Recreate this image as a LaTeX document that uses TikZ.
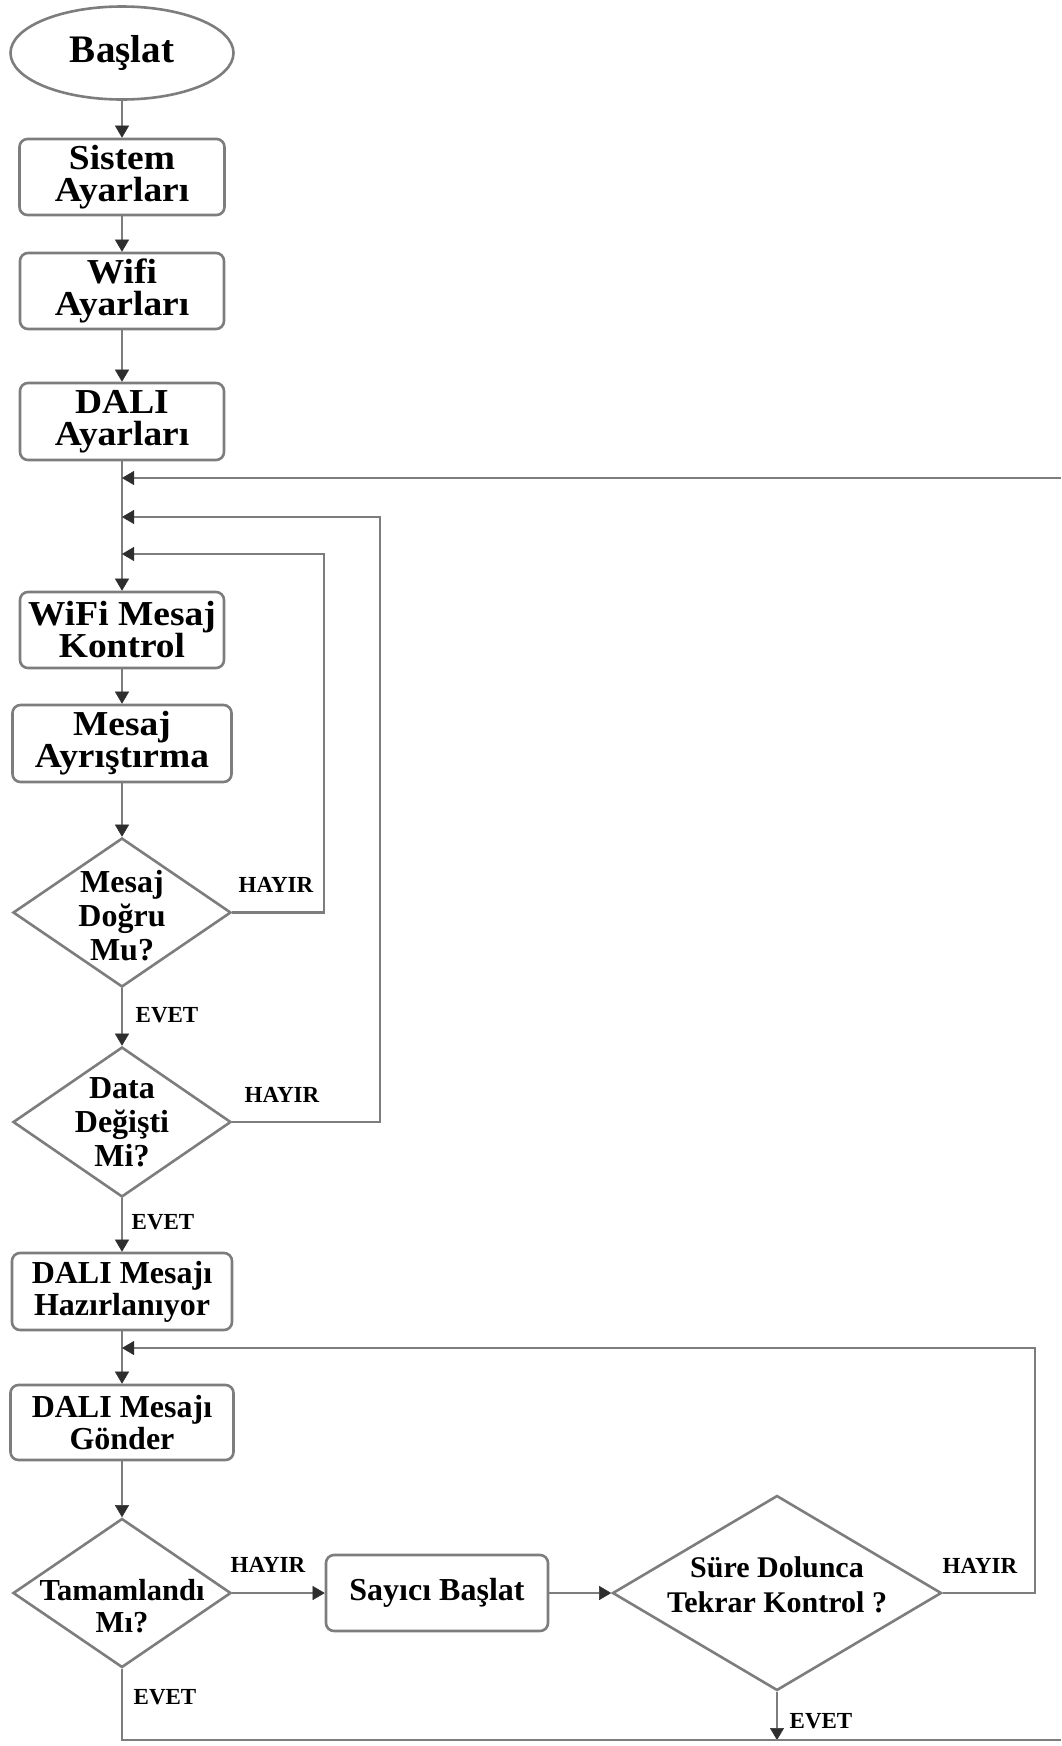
\documentclass[tikz,border=0pt]{standalone}
\usepackage{fontspec}
\setmainfont{Liberation Serif}
\newfontfamily\boxfont[FakeStretch=1.07]{Liberation Serif}
\usetikzlibrary{shapes.geometric,arrows.meta}
\definecolor{edgegray}{HTML}{7D7D7D}
\definecolor{tipdark}{HTML}{2E2E2E}

\begin{document}
\begin{tikzpicture}[x=1pt,y=-1pt,
  boxnode/.style={draw=edgegray, line width=2.6pt, rounded corners=8pt, fill=white,
                  align=center, inner sep=0pt, text=black},
  bigbox/.style={boxnode, font=\boxfont\bfseries\fontsize{35}{32}\selectfont},
  midbox/.style={boxnode, font=\bfseries\fontsize{32}{32}\selectfont},
  decision/.style={diamond, draw=edgegray, line width=2.6pt, fill=white, inner sep=0pt},
  dtext/.style={align=center, inner sep=0pt, text=black,
                font=\bfseries\fontsize{32}{34}\selectfont},
  startnode/.style={ellipse, draw=edgegray, line width=2.6pt, fill=white, inner sep=0pt,
                    font=\bfseries\fontsize{39}{40}\selectfont},
  flow/.style={draw=edgegray, line width=2.6pt},
  arr/.style={flow, -{Triangle[length=12pt,width=14pt,line width=0.5pt,color=tipdark]}},
  lbl/.style={font=\bfseries\fontsize{23}{25}\selectfont, inner sep=0pt, text=black},
]
% canvas
\fill[white] (0,0) rectangle (1061,1746);
\useasboundingbox (0,0) rectangle (1061,1746);

% main column
\node[startnode, minimum width=223pt, minimum height=93pt] (start) at (122,53) {Başlat};
\node[bigbox, minimum width=205pt, minimum height=76pt] (sis)  at (122,177)   {Sistem\\Ayarları};
\node[bigbox, minimum width=204pt, minimum height=76pt] (wifi) at (122,291)   {Wifi\\Ayarları};
\node[bigbox, minimum width=204pt, minimum height=77pt] (dali) at (122,421.5) {DALI\\Ayarları};
\node[bigbox, minimum width=204pt, minimum height=76pt] (wmk)  at (122,630)   {WiFi Mesaj\\Kontrol};
\node[bigbox, minimum width=219pt, minimum height=77pt] (ma)   at (122,743.5) {Mesaj\\Ayrıştırma};

% decisions: outline first, wording on top
\node[decision, minimum width=218pt, minimum height=149pt] (d1) at (122,912.5) {};
\node[dtext, yshift=-3pt] (d1t) at (d1) {Mesaj\\Doğru\\Mu?};
\node[decision, minimum width=218pt, minimum height=150pt] (d2) at (122,1122) {};
\node[dtext] (d2t) at (d2) {Data\\Değişti\\Mi?};

\node[midbox, minimum width=220pt, minimum height=77pt] (dmh)  at (122,1291.5) {DALI Mesajı\\Hazırlanıyor};
\node[midbox, minimum width=223pt, minimum height=75pt] (dmg)  at (122,1422.5) {DALI Mesajı\\Gönder};

\node[decision, minimum width=218pt, minimum height=149pt] (d3) at (122,1593) {};
\node[dtext, font=\bfseries\fontsize{30.5}{32}\selectfont, yshift=-13pt] (d3t) at (d3) {Tamamlandı\\Mı?};

% timer branch
\node[midbox, minimum width=222pt, minimum height=76pt] (say) at (437,1593) {Sayıcı Başlat};
\node[decision, minimum width=329pt, minimum height=195pt] (d4) at (777,1593) {};
\node[dtext, font=\bfseries\fontsize{30}{35}\selectfont, yshift=8pt] (d4t) at (d4) {Süre Dolunca\\Tekrar Kontrol ?};

% junctions and route corners
\coordinate (jA) at (122,478);
\coordinate (jB) at (122,517);
\coordinate (jC) at (122,554);
\coordinate (jD) at (122,1348);
\coordinate (edgeTop) at (1061,478);
\coordinate (rB) at (380,517);
\coordinate (rC) at (324,554);
\coordinate (rD) at (1035,1348);
\coordinate (bM) at (777,1740);
\coordinate (edgeBot) at (1061,1740);

% straight flow
\draw[arr] (start) -- (sis);
\draw[arr] (sis) -- (wifi);
\draw[arr] (wifi) -- (dali);
\draw[arr] (dali) -- (wmk);
\draw[arr] (wmk) -- (ma);
\draw[arr] (ma) -- (d1);
\draw[arr] (d1) -- (d2);
\draw[arr] (d2) -- (dmh);
\draw[arr] (dmh) -- (dmg);
\draw[arr] (dmg) -- (d3);
\draw[arr] (d3) -- (say);
\draw[arr] (say) -- (d4);

% loops back to the main column
\draw[arr] (edgeTop) -- (jA);
\draw[arr] (d1.east) -| (rC) -- (jC);
\draw[arr] (d2.east) -| (rB) -- (jB);
\draw[arr] (d4.east) -| (rD) -- (jD);

% exits at the bottom
\draw[arr] (d4) -- (bM);
\draw[flow] (d3) |- (edgeBot);

% branch labels
\node[lbl] (h1) at (276,885)  {HAYIR};
\node[lbl] (e1) at (167,1015) {EVET};
\node[lbl] (h2) at (282,1095) {HAYIR};
\node[lbl] (e2) at (163,1222) {EVET};
\node[lbl] (h3) at (268,1565) {HAYIR};
\node[lbl] (e3) at (165,1697) {EVET};
\node[lbl] (h4) at (980,1566) {HAYIR};
\node[lbl] (e4) at (821,1721) {EVET};
\end{tikzpicture}
\end{document}
